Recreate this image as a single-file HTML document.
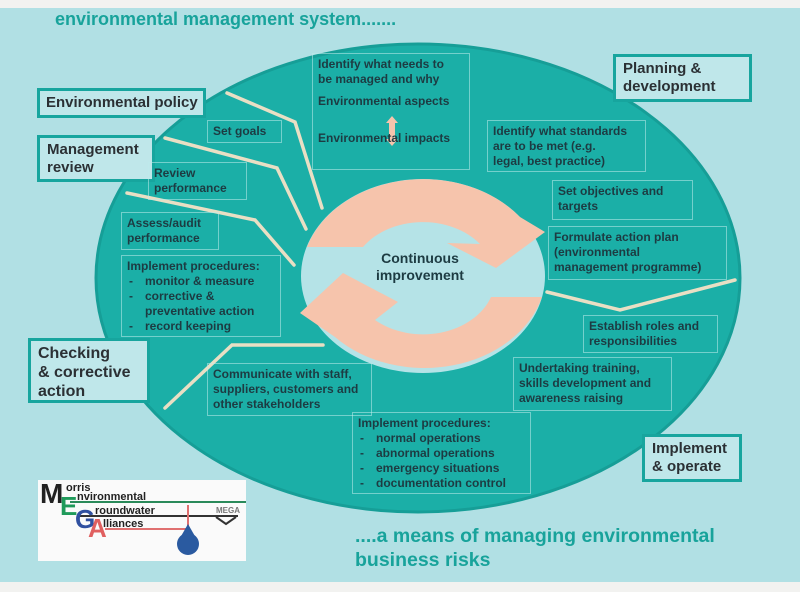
<!DOCTYPE html>
<html><head><meta charset="utf-8"><style>
body{margin:0;width:800px;height:592px;position:relative;overflow:hidden;background:#f2f2f0;font-family:"Liberation Sans",sans-serif}
.b{position:absolute;border:1px solid rgba(190,235,235,.55);font-weight:bold;font-size:12px;line-height:15px;color:#1d3b42;padding:3px 5px;box-sizing:border-box;white-space:nowrap}
.o{position:absolute;background:#bfe7ea;border:3px solid #17a59e;font-weight:bold;font-size:15px;line-height:18px;color:#2b3034;padding:3px 7px;box-sizing:border-box;white-space:nowrap}
.t{position:absolute;color:#18a39b;font-weight:bold;white-space:nowrap}
ul{margin:0;padding:0;list-style:none}
li{padding-left:18px;position:relative}
li:before{content:"-";position:absolute;left:2px}
</style></head><body>
<svg width="800" height="592" style="position:absolute;left:0;top:0">
<rect x="0" y="8" width="800" height="574" fill="#b1e0e4"/>
<ellipse cx="418" cy="278" rx="322" ry="234" fill="#1bafa7" stroke="#169e97" stroke-width="3"/>
<ellipse cx="423" cy="276" rx="122" ry="97" fill="#b5e3e7"/>
<path d="M307,247 A122,97 0 0 1 520,217 L545,232 L496,268 L447,243 L480,244 A72,56 0 0 0 363,247 Z" fill="#f6c4ac"/>
<path d="M542,297 A122,97 0 0 1 335,337 L300,313 L343,273 L398,302 L375,320 A72,56 0 0 0 491,297 Z" fill="#f6c4ac"/>
<g stroke="#e9dfc4" stroke-width="3.5" fill="none" stroke-linecap="round">
<polyline points="227,93 295,122 322,208"/>
<polyline points="165,138 277,168 306,229"/>
<polyline points="127,193 255,220 294,265"/>
<polyline points="165,408 232,345 323,345"/>
<polyline points="547,292 620,310 735,280"/>
</g>
<path d="M386,123 l6,-7 6,7 h-3 v16 h3 l-6,7 -6,-7 h3 v-16 z" fill="#f6c4ac"/>
<rect x="38" y="480" width="208" height="81" fill="#fafafa"/>
<g stroke-width="2" fill="none">
<line x1="70" y1="502" x2="246" y2="502" stroke="#2a8a5a"/>
<line x1="80" y1="516" x2="238" y2="516" stroke="#333"/>
<polyline points="105,529 188,529 188,505" stroke="#e07070"/>
<polyline points="216,517 226,524 236,517" stroke="#333"/>
</g>
<circle cx="188" cy="544" r="11" fill="#2a5aa0"/>
<path d="M188,524 l-8,14 h16 z" fill="#2a5aa0"/>
<text x="40" y="503" font-family="Liberation Sans" font-weight="bold" font-size="28" fill="#222">M</text>
<text x="60" y="515" font-family="Liberation Sans" font-weight="bold" font-size="26" fill="#1f9a5a">E</text>
<text x="75" y="528" font-family="Liberation Sans" font-weight="bold" font-size="26" fill="#3050a0">G</text>
<text x="88" y="537" font-family="Liberation Sans" font-weight="bold" font-size="26" fill="#e06060">A</text>
<g font-family="Liberation Sans" font-size="11" fill="#222" font-weight="bold">
<text x="66" y="491">orris</text><text x="77" y="500">nvironmental</text><text x="95" y="514">roundwater</text><text x="103" y="527">lliances</text>
<text x="216" y="513" font-size="8" fill="#777">MEGA</text>
</g>
</svg>
<div class="t" style="left:55px;top:9px;font-size:18px">environmental management system.......</div>
<div class="t" style="left:355px;top:524px;font-size:19.5px;line-height:24px">....a means of managing environmental<br>business risks</div>

<div class="o" style="left:37px;top:88px;width:169px;height:30px;padding:3px 6px 0">Environmental policy</div>
<div class="o" style="left:37px;top:135px;width:118px;height:47px">Management<br>review</div>
<div class="o" style="left:28px;top:338px;width:122px;height:65px;font-size:16px;line-height:19px">Checking<br>&amp; corrective<br>action</div>
<div class="o" style="left:613px;top:54px;width:139px;height:48px">Planning &amp;<br>development</div>
<div class="o" style="left:642px;top:434px;width:100px;height:48px">Implement<br>&amp; operate</div>

<div class="b" style="left:312px;top:53px;width:158px;height:117px">Identify what needs to<br>be managed and why<br><div style="margin-top:7px">Environmental aspects</div><div style="margin-top:22px">Environmental impacts</div></div>
<div class="b" style="left:207px;top:120px;width:75px;height:23px">Set goals</div>
<div class="b" style="left:148px;top:162px;width:99px;height:38px">Review<br>performance</div>
<div class="b" style="left:121px;top:212px;width:98px;height:38px">Assess/audit<br>performance</div>
<div class="b" style="left:121px;top:255px;width:160px;height:82px">Implement procedures:<ul><li>monitor &amp; measure</li><li>corrective &amp;<br>preventative action</li><li>record keeping</li></ul></div>
<div class="b" style="left:207px;top:363px;width:165px;height:53px">Communicate with staff,<br>suppliers, customers and<br>other stakeholders</div>
<div class="b" style="left:352px;top:412px;width:179px;height:82px">Implement procedures:<ul><li>normal operations</li><li>abnormal operations</li><li>emergency situations</li><li>documentation control</li></ul></div>
<div class="b" style="left:513px;top:357px;width:159px;height:54px">Undertaking training,<br>skills development and<br>awareness raising</div>
<div class="b" style="left:583px;top:315px;width:135px;height:38px">Establish roles and<br>responsibilities</div>
<div class="b" style="left:548px;top:226px;width:179px;height:54px">Formulate action plan<br>(environmental<br>management programme)</div>
<div class="b" style="left:552px;top:180px;width:141px;height:40px">Set objectives and<br>targets</div>
<div class="b" style="left:487px;top:120px;width:159px;height:52px">Identify what standards<br>are to be met (e.g.<br>legal, best practice)</div>
<div style="position:absolute;left:355px;top:250px;width:130px;text-align:center;font-weight:bold;font-size:14px;line-height:17px;color:#1d3b42">Continuous<br>improvement</div>
</body></html>
